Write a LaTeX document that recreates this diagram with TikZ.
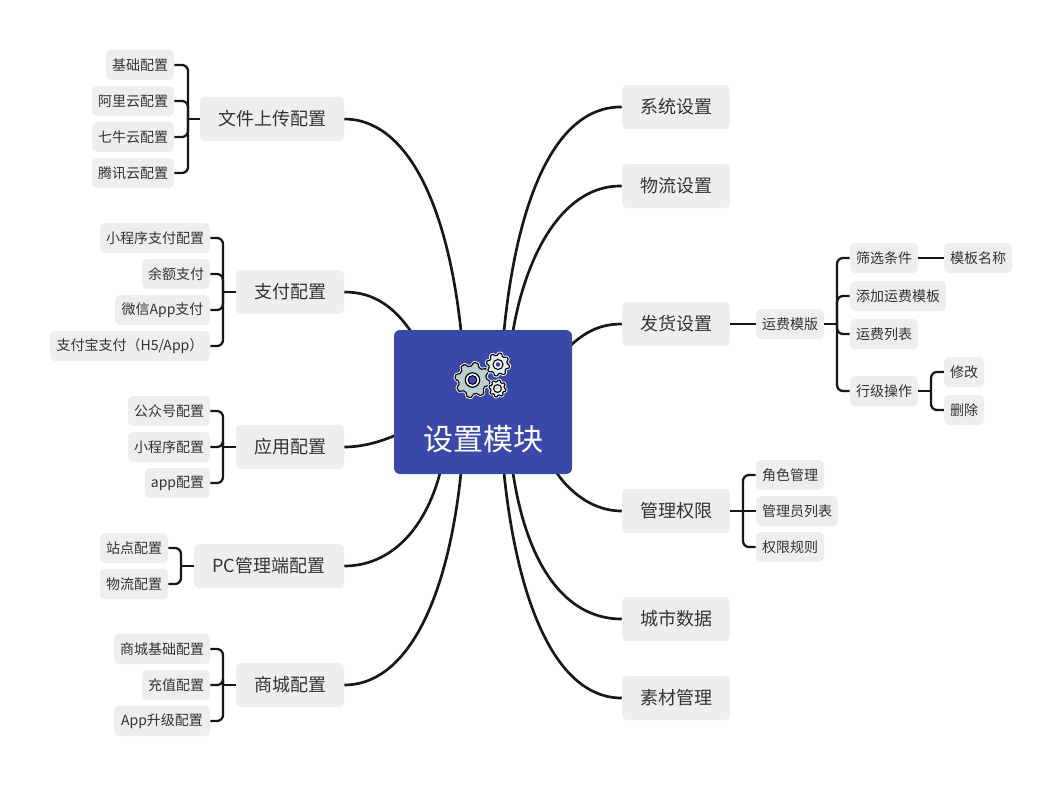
\documentclass[tikz,border=0pt]{standalone}
\usepackage{fontspec}
\setmainfont{Noto Sans CJK SC}
\usetikzlibrary{calc}
\pgfdeclarelayer{back}
\pgfsetlayers{back,main}
\definecolor{boxfill}{HTML}{EEEEEE}
\definecolor{inktext}{HTML}{333333}
\definecolor{rootblue}{HTML}{3A48A9}
\definecolor{linkink}{HTML}{171717}
\definecolor{gearbig}{HTML}{BBCFD1}
\definecolor{gearlight}{HTML}{E3EEEF}
\tikzset{
  x=0.75pt,y=-0.75pt,
  boxbase/.style={rectangle,fill=boxfill,text=inktext,inner sep=0pt,rounded corners=3.6pt},
  topic/.style={boxbase,font=\fontsize{13.5pt}{16pt}\selectfont},
  leaf/.style={boxbase,font=\fontsize{10.5pt}{13pt}\selectfont},
  rootbox/.style={rectangle,fill=rootblue,inner sep=0pt,rounded corners=4.5pt},
  link/.style={draw=linkink,line width=2pt},
  stub/.style={draw=linkink,line width=1.7pt},
  bracket/.style={draw=linkink,line width=1.7pt,rounded corners=4.5pt},
}
\newcommand{\bx}[7]{%
  \pgfmathsetmacro{\cxv}{(#3+#5)/2}\pgfmathsetmacro{\cyv}{(#4+#6)/2}%
  \pgfmathsetmacro{\wv}{(#5-#3)*0.75}\pgfmathsetmacro{\hv}{(#6-#4)*0.75}%
  \node[#1,minimum width=\wv pt,minimum height=\hv pt] (#2) at (\cxv,\cyv) {#7};}
\newcommand{\brk}[3]{% parent, spine x, child
  \draw[bracket] (#3.east) -- (#2,0 |- #3.east) -- (#2,0 |- #1.west);
  \draw[stub] (#2,0 |- #1.west) -- (#1.west);}
\newcommand{\brkr}[3]{%
  \draw[bracket] (#3.west) -- (#2,0 |- #3.west) -- (#2,0 |- #1.east);
  \draw[stub] (#2,0 |- #1.east) -- (#1.east);}
\newcommand{\gearshape}[5]{% cx cy r teeth fill
  \draw[draw=white,line width=2.2pt,fill=white,line join=round]
    plot[domain=0:360,samples=145] ({#1+#3*(0.9+0.1*max(-1,min(1,1.5*sin(#4*\x))))*cos(\x)},{#2+#3*(0.9+0.1*max(-1,min(1,1.5*sin(#4*\x))))*sin(\x)}) -- cycle;
  \draw[draw=black,line width=0.85pt,fill=#5,line join=round]
    plot[domain=0:360,samples=145] ({#1+#3*(0.9+0.1*max(-1,min(1,1.5*sin(#4*\x))))*cos(\x)},{#2+#3*(0.9+0.1*max(-1,min(1,1.5*sin(#4*\x))))*sin(\x)}) -- cycle;}
\begin{document}
\begin{tikzpicture}
\useasboundingbox (0,0) rectangle (1062,786);

\bx{rootbox}{root}{394}{330}{572}{474}{}
\node[text=white,font=\fontsize{22.5pt}{26pt}\selectfont,inner sep=0pt] (roottext) at (483,439) {设置模块};

% left topics
\bx{topic}{upload}{200}{97}{344}{141}{文件上传配置}
\bx{topic}{pay}{236}{270}{344}{314}{支付配置}
\bx{topic}{app}{236}{425}{344}{469}{应用配置}
\bx{topic}{pc}{194}{544}{344}{588}{PC管理端配置}
\bx{topic}{shop}{236}{663}{344}{707}{商城配置}
% right topics
\bx{topic}{sys}{622}{85}{730}{129}{系统设置}
\bx{topic}{logi}{622}{164}{730}{208}{物流设置}
\bx{topic}{ship}{622}{302}{730}{346}{发货设置}
\bx{topic}{perm}{622}{489}{730}{533}{管理权限}
\bx{topic}{city}{622}{597}{730}{641}{城市数据}
\bx{topic}{mat}{622}{676}{730}{720}{素材管理}
% leaves
\bx{leaf}{u1}{106}{50}{174}{80}{基础配置}
\bx{leaf}{u2}{92}{86}{174}{116}{阿里云配置}
\bx{leaf}{u3}{92}{122}{174}{152}{七牛云配置}
\bx{leaf}{u4}{92}{158}{174}{188}{腾讯云配置}
\bx{leaf}{p1}{100}{223}{210}{253}{小程序支付配置}
\bx{leaf}{p2}{142}{259}{210}{289}{余额支付}
\bx{leaf}{p3}{115}{295}{210}{325}{微信App支付}
\bx{leaf}{p4}{50}{331}{210}{361}{支付宝支付（H5/App）}
\bx{leaf}{a1}{128}{396}{210}{426}{公众号配置}
\bx{leaf}{a2}{128}{432}{210}{462}{小程序配置}
\bx{leaf}{a3}{145}{468}{210}{498}{app配置}
\bx{leaf}{c1}{100}{533}{168}{563}{站点配置}
\bx{leaf}{c2}{100}{569}{168}{599}{物流配置}
\bx{leaf}{s1}{114}{634}{210}{664}{商城基础配置}
\bx{leaf}{s2}{142}{670}{210}{700}{充值配置}
\bx{leaf}{s3}{114}{706}{210}{736}{App升级配置}
\bx{leaf}{tpl}{756}{309}{824}{339}{运费模版}
\bx{leaf}{t1}{850}{243}{918}{273}{筛选条件}
\bx{leaf}{t2}{850}{281}{946}{311}{添加运费模板}
\bx{leaf}{t3}{850}{319}{918}{349}{运费列表}
\bx{leaf}{t4}{850}{376}{918}{406}{行级操作}
\bx{leaf}{t5}{944}{243}{1012}{273}{模板名称}
\bx{leaf}{t6}{944}{357}{984}{387}{修改}
\bx{leaf}{t7}{944}{395}{984}{425}{删除}
\bx{leaf}{m1}{756}{460}{824}{490}{角色管理}
\bx{leaf}{m2}{756}{496}{838}{526}{管理员列表}
\bx{leaf}{m3}{756}{532}{824}{562}{权限规则}

% anchor points on the central box
\coordinate (rU) at (461,331);
\coordinate (rP) at (412,333);
\coordinate (rA) at (396,435);
\coordinate (rC) at (440,473);
\coordinate (rS) at (461,473);
\coordinate (rSy) at (504,331);
\coordinate (rL) at (513,331);
\coordinate (rSh) at (570,346);
\coordinate (rM) at (556,472);
\coordinate (rCi) at (513,473);
\coordinate (rMa) at (504,473);

\begin{pgfonlayer}{back}
\fill[white] (0,0) rectangle (1062,786);
\draw[link] (upload.east) .. controls (405,119) and (447,200) .. (rU);
\draw[link] (pay.east) .. controls (375,292) and (395,308) .. (rP);
\draw[link] (app.east) .. controls (362,447) and (380,442) .. (rA);
\draw[link] (pc.east) .. controls (390,566) and (425,530) .. (rC);
\draw[link] (shop.east) .. controls (405,685) and (447,605) .. (rS);
\draw[link] (sys.west) .. controls (555,106) and (517,200) .. (rSy);
\draw[link] (logi.west) .. controls (565,185) and (527,250) .. (rL);
\draw[link] (ship.west) .. controls (600,324) and (585,332) .. (rSh);
\draw[link] (perm.west) .. controls (595,511) and (572,495) .. (rM);
\draw[link] (city.west) .. controls (565,619) and (527,565) .. (rCi);
\draw[link] (mat.west) .. controls (555,698) and (517,600) .. (rMa);
\end{pgfonlayer}

\brk{upload}{188}{u1}\brk{upload}{188}{u2}\brk{upload}{188}{u3}\brk{upload}{188}{u4}
\brk{pay}{223}{p1}\brk{pay}{223}{p2}\brk{pay}{223}{p3}\brk{pay}{223}{p4}
\brk{app}{223}{a1}\brk{app}{223}{a2}\brk{app}{223}{a3}
\brk{pc}{181}{c1}\brk{pc}{181}{c2}
\brk{shop}{223}{s1}\brk{shop}{223}{s2}\brk{shop}{223}{s3}
\draw[stub] (ship.east) -- (tpl.west);
\brkr{tpl}{837}{t1}\brkr{tpl}{837}{t2}\brkr{tpl}{837}{t3}\brkr{tpl}{837}{t4}
\draw[stub] (t1.east) -- (t5.west);
\brkr{t4}{931}{t6}\brkr{t4}{931}{t7}
\draw[stub] (perm.east) -- (m2.west);
\brkr{perm}{743}{m1}\brkr{perm}{743}{m3}

% gears
\gearshape{472.5}{380}{17.5}{8}{gearbig}
\draw[black,line width=0.9pt,fill=white] (472.5,380) circle (7.2);
\fill[rootblue] (472.5,380) circle (4.4);
\draw[black,line width=0.7pt] (472.5,380) circle (4.4);
\gearshape{498}{364.5}{11.5}{8}{gearlight}
\draw[black,line width=0.8pt,fill=white] (498,364.5) circle (5);
\fill[rootblue] (498,364.5) circle (2.3);
\gearshape{497.5}{388.5}{8.5}{8}{gearlight}
\draw[black,line width=0.8pt,fill=white] (497.5,388.5) circle (3.9);
\fill[gearbig] (497.5,388.5) circle (1.7);
\end{tikzpicture}
\end{document}
